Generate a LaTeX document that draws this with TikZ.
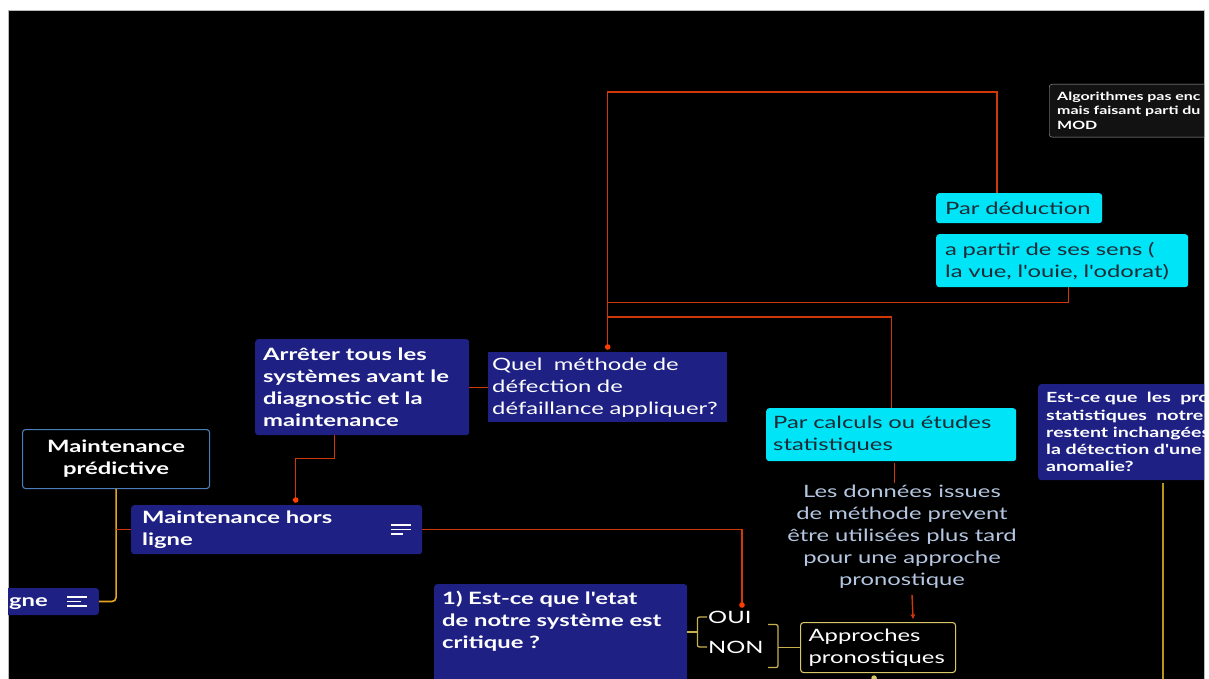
\documentclass[tikz,border=0pt]{standalone}
\usepackage{fontspec}
\setmainfont{Lato}[FakeStretch=1.4, Ligatures=TeXOff]
\usetikzlibrary{calc,arrows.meta}

\definecolor{navy}{HTML}{1E2183}
\definecolor{cyanbg}{HTML}{00E4F8}
\definecolor{cyantext}{HTML}{1C2B36}
\definecolor{linered}{HTML}{D0380A}
\definecolor{dotred}{HTML}{FF3D00}
\definecolor{brackety}{HTML}{C8B050}
\definecolor{approbd}{HTML}{D8C868}
\definecolor{predbd}{HTML}{4C7DB8}
\definecolor{predline}{HTML}{E6A520}
\definecolor{estline}{HTML}{B8961A}
\definecolor{noteblue}{HTML}{B4C6E0}
\definecolor{darkbox}{HTML}{121212}

\tikzset{
  txt/.style={font=\fontsize{17}{22}\selectfont},
  boldtxt/.style={font=\fontsize{17}{22}\selectfont\bfseries},
  navybox/.style={fill=navy, rounded corners=3pt, text=white, boldtxt,
    align=left, inner ysep=0pt, anchor=north west},
  cyanbox/.style={fill=cyanbg, rounded corners=3pt, text=cyantext, txt,
    align=left, inner ysep=0pt, anchor=north west},
  redline/.style={draw=linered, line width=1.4pt},
  reddot/.style={fill=dotred},
  bracketline/.style={draw=brackety, line width=1.3pt, rounded corners=2pt},
  noteicon/.style={draw=white, line width=1.3pt},
}

\begin{document}
\begin{tikzpicture}[x=1pt,y=-1pt]
\useasboundingbox (0,0) rectangle (1209,679);
\fill[white] (0,0) rectangle (1209,679);
\fill[black] (8,10) rectangle (1204,679);
\draw[gray!55, line width=0.8pt] (8,679) -- (8,10) -- (1204,10) -- (1204,679);

\begin{scope}
\clip (8,10) rectangle (1204,679);

% ---- nodes ----
\node[draw=gray!70, fill=darkbox, rounded corners=3pt, text=white,
  font=\fontsize{11.4}{14.5}\selectfont\bfseries, align=left, inner xsep=8pt,
  inner ysep=0pt, anchor=north west, minimum width=200pt, minimum height=53pt,
  text width=184pt] (algo) at (1049,84)
  {Algorithmes pas enc\\mais faisant parti du\\MOD};

\node[cyanbox, inner xsep=9pt, minimum width=166pt, minimum height=30pt,
  text width=148pt] (deduc) at (936,193) {Par déduction};

\node[cyanbox, inner xsep=9pt, minimum width=252pt, minimum height=53pt,
  text width=234pt] (sens) at (936,234)
  {a partir de ses sens (\\la vue, l'ouie, l'odorat)};

\node[navybox, rounded corners=0pt, font=\fontsize{17}{22}\selectfont,
  inner xsep=4pt, minimum width=239pt, minimum height=70pt,
  text width=231pt] (quel) at (488,352)
  {Quel\ \ méthode de\\défection de\\défaillance appliquer?};

\node[navybox, inner xsep=8pt, minimum width=214pt, minimum height=96pt,
  text width=198pt] (arr) at (255,339)
  {Arrêter tous les\\systèmes avant le\\diagnostic et la\\maintenance};

\node[navybox, inner xsep=11pt, minimum width=291pt, minimum height=49pt,
  text width=269pt] (mhl) at (131,505)
  {Maintenance hors\\ligne};

\node[draw=predbd, line width=1.1pt, fill=black, rounded corners=3pt,
  text=white, boldtxt, align=center, inner ysep=0pt, anchor=north west,
  minimum width=187pt, minimum height=59pt, text width=167pt] (pred) at (22,429)
  {Maintenance\\prédictive};

\node[navybox, anchor=east, inner xsep=0pt, minimum width=119pt,
  minimum height=27pt, text width=119pt, align=right] (gne) at (99,601.5)
  {ligne\hspace*{51pt}};

\node[navybox, inner xsep=8pt, inner ysep=7pt, text width=237pt] (q1) at (434,584)
  {\parbox[t][110pt][t]{237pt}{\raggedright 1) Est-ce que l'etat\\de notre système est\\critique ?}};

\node[cyanbox, inner xsep=7pt, minimum width=250pt, minimum height=53pt,
  text width=236pt] (calc) at (766,408)
  {Par calculs ou études\\statistiques};

\node[navybox, font=\fontsize{14}{17.3}\selectfont\bfseries, inner xsep=8pt,
  minimum width=230pt, minimum height=96pt, text width=214pt] (est) at (1038,384)
  {Est-ce que\ \ les\ \ pro\\statistiques\ \ notre\\restent inchangées\\la détection d'une\\anomalie?};

\node[draw=approbd, line width=1.1pt, fill=black, rounded corners=3pt,
  text=white, txt, align=left, inner xsep=8pt, inner ysep=0pt,
  anchor=north west, minimum width=155pt, minimum height=50pt,
  text width=139pt] (appr) at (800,622)
  {Approches\\pronostiques};

\node[txt, text=noteblue, align=center, inner sep=0pt] (donnees) at (902,537)
  {Les données issues\\de méthode prevent\\être utilisées plus tard\\pour une approche\\pronostique};

\node[txt, text=white, anchor=west, inner sep=1pt] (oui) at (707,617) {OUI};
\node[txt, text=white, anchor=west, inner sep=1pt] (non) at (707,647) {NON};

% note icons (three lines each)
\draw[noteicon] ($(mhl.north east)+(-31,20)$) -- ++(20,0);
\draw[noteicon] ($(mhl.north east)+(-31,24.5)$) -- ++(20,0);
\draw[noteicon] ($(mhl.north east)+(-31,29)$) -- ++(12,0);
\draw[noteicon] ($(gne.east)+(-32,-4.5)$) -- ++(20,0);
\draw[noteicon] ($(gne.east)+(-32,0)$) -- ++(14,0);
\draw[noteicon] ($(gne.east)+(-32,4.5)$) -- ++(20,0);

% ---- connectors ----
\coordinate (qtop) at ($(quel.north)+(0,-5)$);
\coordinate (ouidot) at (742,605);

\draw[redline] (qtop) -- ++(0,-255) -| ($(deduc.north west)+(61,0)$);
\draw[redline] ($(sens.south)+(6,0)$) -- ++(0,15) -| (qtop);
\draw[redline] (calc.north) |- ($(qtop)+(0,-30)$);
\fill[reddot] (qtop) circle (2.8pt);

\draw[redline] (arr.east) -- (quel.west);
\draw[redline] ($(arr.south)+(-28,0)$) -- ++(0,23) -| ($(mhl.north)+(19,-5)$);
\fill[reddot] ($(mhl.north)+(19,-5)$) circle (2.8pt);

\draw[redline] (mhl.east) -| (ouidot);
\fill[reddot] (ouidot) circle (2.8pt);

\draw[draw=predline, line width=1.6pt, rounded corners=4pt] (pred.south) |- (gne.east);
\draw[redline] (pred.south |- mhl.west) -- (mhl.west);

% OUI / NON bracket
\draw[bracketline] ($(q1.north east)+(0,48)$) -- ++(10,0);
\draw[bracketline] (oui.west) -| ($(q1.north east)+(10,48)$) |- (non.west);
\draw[bracketline] ($(appr.west)+(-32,-23)$) -- ++(10,0) -- ++(0,43) -- ++(-10,0);
\draw[bracketline] ($(appr.west)+(-22,0)$) -- (appr.west);
\fill[approbd] ($(appr.south)+(-4,5)$) circle (2.8pt);

\draw[redline] ($(calc.south)+(3,2)$) -- ($(calc.south |- donnees.north)+(3,-2)$);
\draw[redline, -{Stealth[length=5pt,width=5pt]}] ($(donnees.south)+(10,6)$) -- ($(appr.north)+(35,-3)$);

\draw[draw=estline, line width=1.6pt] ($(est.south west)+(125,3)$) -- ++(0,220);
\end{scope}
\end{tikzpicture}
\end{document}
